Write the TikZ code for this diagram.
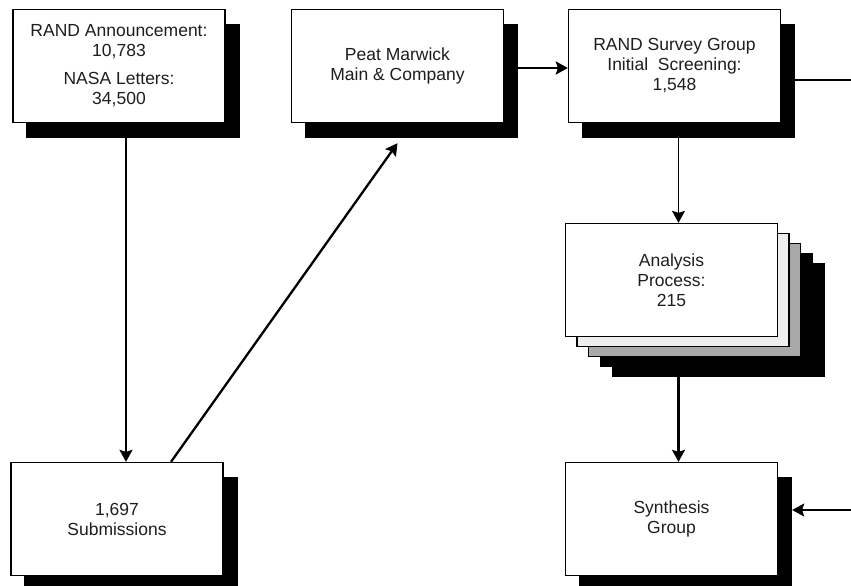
\documentclass[tikz,border=0pt]{standalone}
\usepackage{fontspec}
\setmainfont{Liberation Sans}
\usetikzlibrary{shadows,calc,arrows.meta}
\definecolor{txt}{HTML}{1E1E1E}
\definecolor{layerlight}{HTML}{EEEEEE}
\definecolor{layergray}{HTML}{A8A8A8}
\tikzset{
  box/.style={draw=black, line width=1.3pt, fill=white, minimum width=212pt, minimum height=113pt,
    inner sep=0pt, align=center, text=txt, font=\fontsize{17.5}{20}\selectfont},
  shadowbox/.style={box, general shadow={shadow xshift=14pt, shadow yshift=-15pt, fill=black, draw=black}},
  stackbox/.style={box,
    general shadow={shadow xshift=47pt, shadow yshift=-40pt, fill=black, draw=black},
    general shadow={shadow xshift=35pt, shadow yshift=-30pt, fill=black, draw=black},
    general shadow={shadow xshift=23pt, shadow yshift=-20pt, fill=layergray, draw=black, line width=1.3pt},
    general shadow={shadow xshift=11.5pt, shadow yshift=-10pt, fill=layerlight, draw=black, line width=1.3pt}},
  tip/.style={-{Stealth[length=12pt,width=13pt,inset=2pt]}},
  conn/.style={draw=black, line width=1.6pt},
}
\begin{document}
\begin{tikzpicture}[x=1pt,y=-1pt]
\useasboundingbox (0,0) rectangle (851,586);
\coordinate (rc) at (851,80);
\coordinate (rf) at (851,510);
\node[shadowbox] (a) at (119,66) {RAND Announcement:\\10,783\\[8pt]NASA Letters:\\34,500};
\node[shadowbox] (b) at (397.5,66) {Peat Marwick\\Main \& Company};
\node[shadowbox] (c) at (674.5,66) {RAND Survey Group\\Initial~ Screening:\\1,548};
\node[stackbox] (e) at (671.5,280) {Analysis\\Process:\\215};
\node[shadowbox] (d) at (117,519) {1,697\\Submissions};
\node[shadowbox] (f) at (671.5,519) {Synthesis\\Group};
\draw[conn, line width=1.9pt, tip] ($(a.south)+(7,15)$) -- ($(d.north)+(9,0)$);
\draw[conn, line width=2.3pt, tip] ($(d.north)+(54,0)$) -- ($(b.south)+(0,20)$);
\draw[conn, line width=2.3pt, tip] ($(b.east)+(14,2)$) -- ($(c.west)+(0,2)$);
\draw[conn, line width=1.1pt, tip] ($(c.south)+(4,15)$) -- ($(e.north)+(7,0)$);
\draw[conn, line width=2.1pt, tip] ($(e.south)+(7,40)$) -- ($(f.north)+(7,0)$);
\draw[conn, line width=1.3pt] ($(c.east)+(14,14)$) -- (rc);
\draw[conn, line width=1.3pt, tip] (rf) -- ($(f.east)+(14,-9)$);
\end{tikzpicture}
\end{document}
